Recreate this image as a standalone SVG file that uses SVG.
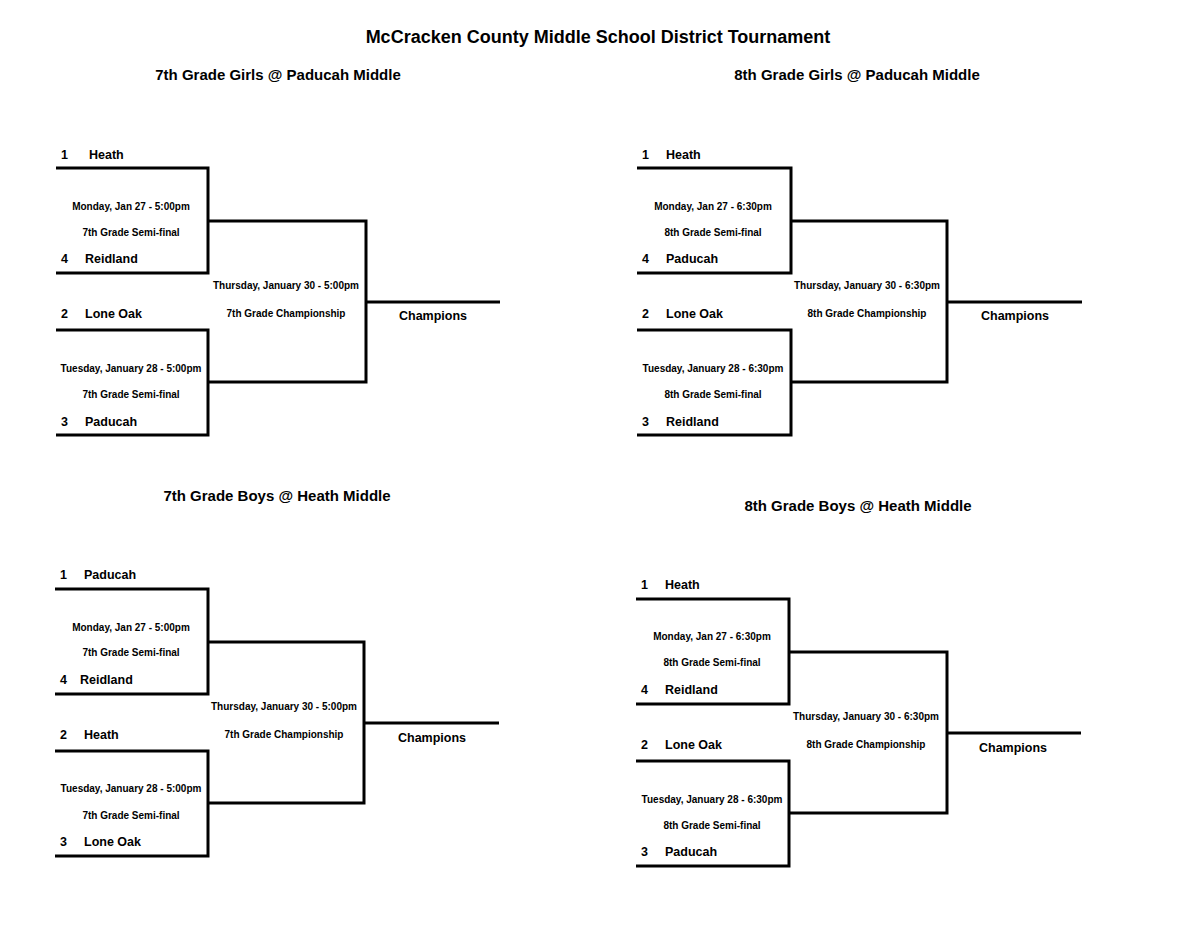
<svg xmlns="http://www.w3.org/2000/svg" width="1200" height="927" viewBox="0 0 1200 927">
<style>
text{font-family:"Liberation Sans",Arial,sans-serif;font-weight:bold;fill:#000}
.title{font-size:18px;text-anchor:middle}
.sub{font-size:15px;text-anchor:middle}
.team{font-size:12.5px}
.game{font-size:10px;text-anchor:middle}
.champ{font-size:12.5px;text-anchor:middle}
.line{stroke:#000;stroke-width:3;fill:none;stroke-linejoin:miter;stroke-linecap:butt}
</style>
<rect width="1200" height="927" fill="#fff"/>
<text id="title" class="title" x="598" y="43">McCracken County Middle School District Tournament</text>

<g id="connectors">
  <!-- top-left -->
  <path class="line" d="M56,168 H208 V273 H56"/>
  <path class="line" d="M56,330 H208 V435 H56"/>
  <path class="line" d="M208,221 H366 V382 H208"/>
  <path class="line" d="M366,302 H500"/>
  <!-- top-right -->
  <path class="line" d="M637,168 H791 V273 H637"/>
  <path class="line" d="M637,330 H791 V435 H637"/>
  <path class="line" d="M791,221 H947 V382 H791"/>
  <path class="line" d="M947,302 H1082"/>
  <!-- bottom-left -->
  <path class="line" d="M55,589 H208 V694 H55"/>
  <path class="line" d="M55,751 H208 V856 H55"/>
  <path class="line" d="M208,642 H364 V803 H208"/>
  <path class="line" d="M364,723 H499"/>
  <!-- bottom-right -->
  <path class="line" d="M636,599 H789 V704 H636"/>
  <path class="line" d="M636,761 H789 V866 H636"/>
  <path class="line" d="M789,652 H947 V813 H789"/>
  <path class="line" d="M947,733 H1081"/>
</g>

<g id="bracket-7g">
  <text class="sub" x="278" y="80">7th Grade Girls @ Paducah Middle</text>
  <g id="g7-team1"><text class="team" x="61" y="159">1</text><text class="team" x="89" y="159">Heath</text></g>
  <g id="g7-team4"><text class="team" x="61" y="263">4</text><text class="team" x="85" y="263">Reidland</text></g>
  <g id="g7-team2"><text class="team" x="61" y="318">2</text><text class="team" x="85" y="318">Lone Oak</text></g>
  <g id="g7-team3"><text class="team" x="61" y="426">3</text><text class="team" x="85" y="426">Paducah</text></g>
  <g id="g7-semi1"><text class="game" x="131" y="210">Monday, Jan 27 - 5:00pm</text><text class="game" x="131" y="236">7th Grade Semi-final</text></g>
  <g id="g7-semi2"><text class="game" x="131" y="372">Tuesday, January 28 - 5:00pm</text><text class="game" x="131" y="398">7th Grade Semi-final</text></g>
  <g id="g7-final"><text class="game" x="286" y="289">Thursday, January 30 - 5:00pm</text><text class="game" x="286" y="317">7th Grade Championship</text></g>
  <g id="g7-champ"><text class="champ" x="433" y="320">Champions</text></g>
</g>

<g id="bracket-8g">
  <text class="sub" x="857" y="80">8th Grade Girls @ Paducah Middle</text>
  <g id="g8-team1"><text class="team" x="642" y="159">1</text><text class="team" x="666" y="159">Heath</text></g>
  <g id="g8-team4"><text class="team" x="642" y="263">4</text><text class="team" x="666" y="263">Paducah</text></g>
  <g id="g8-team2"><text class="team" x="642" y="318">2</text><text class="team" x="666" y="318">Lone Oak</text></g>
  <g id="g8-team3"><text class="team" x="642" y="426">3</text><text class="team" x="666" y="426">Reidland</text></g>
  <g id="g8-semi1"><text class="game" x="713" y="210">Monday, Jan 27 - 6:30pm</text><text class="game" x="713" y="236">8th Grade Semi-final</text></g>
  <g id="g8-semi2"><text class="game" x="713" y="372">Tuesday, January 28 - 6:30pm</text><text class="game" x="713" y="398">8th Grade Semi-final</text></g>
  <g id="g8-final"><text class="game" x="867" y="289">Thursday, January 30 - 6:30pm</text><text class="game" x="867" y="317">8th Grade Championship</text></g>
  <g id="g8-champ"><text class="champ" x="1015" y="320">Champions</text></g>
</g>

<g id="bracket-7b">
  <text class="sub" x="277" y="501">7th Grade Boys @ Heath Middle</text>
  <g id="b7-team1"><text class="team" x="60" y="579">1</text><text class="team" x="84" y="579">Paducah</text></g>
  <g id="b7-team4"><text class="team" x="60" y="684">4</text><text class="team" x="80" y="684">Reidland</text></g>
  <g id="b7-team2"><text class="team" x="60" y="739">2</text><text class="team" x="84" y="739">Heath</text></g>
  <g id="b7-team3"><text class="team" x="60" y="846">3</text><text class="team" x="84" y="846">Lone Oak</text></g>
  <g id="b7-semi1"><text class="game" x="131" y="631">Monday, Jan 27 - 5:00pm</text><text class="game" x="131" y="656">7th Grade Semi-final</text></g>
  <g id="b7-semi2"><text class="game" x="131" y="792">Tuesday, January 28 - 5:00pm</text><text class="game" x="131" y="819">7th Grade Semi-final</text></g>
  <g id="b7-final"><text class="game" x="284" y="710">Thursday, January 30 - 5:00pm</text><text class="game" x="284" y="738">7th Grade Championship</text></g>
  <g id="b7-champ"><text class="champ" x="432" y="742">Champions</text></g>
</g>

<g id="bracket-8b">
  <text class="sub" x="858" y="511">8th Grade Boys @ Heath Middle</text>
  <g id="b8-team1"><text class="team" x="641" y="589">1</text><text class="team" x="665" y="589">Heath</text></g>
  <g id="b8-team4"><text class="team" x="641" y="694">4</text><text class="team" x="665" y="694">Reidland</text></g>
  <g id="b8-team2"><text class="team" x="641" y="749">2</text><text class="team" x="665" y="749">Lone Oak</text></g>
  <g id="b8-team3"><text class="team" x="641" y="856">3</text><text class="team" x="665" y="856">Paducah</text></g>
  <g id="b8-semi1"><text class="game" x="712" y="640">Monday, Jan 27 - 6:30pm</text><text class="game" x="712" y="666">8th Grade Semi-final</text></g>
  <g id="b8-semi2"><text class="game" x="712" y="803">Tuesday, January 28 - 6:30pm</text><text class="game" x="712" y="829">8th Grade Semi-final</text></g>
  <g id="b8-final"><text class="game" x="866" y="720">Thursday, January 30 - 6:30pm</text><text class="game" x="866" y="748">8th Grade Championship</text></g>
  <g id="b8-champ"><text class="champ" x="1013" y="752">Champions</text></g>
</g>
</svg>
